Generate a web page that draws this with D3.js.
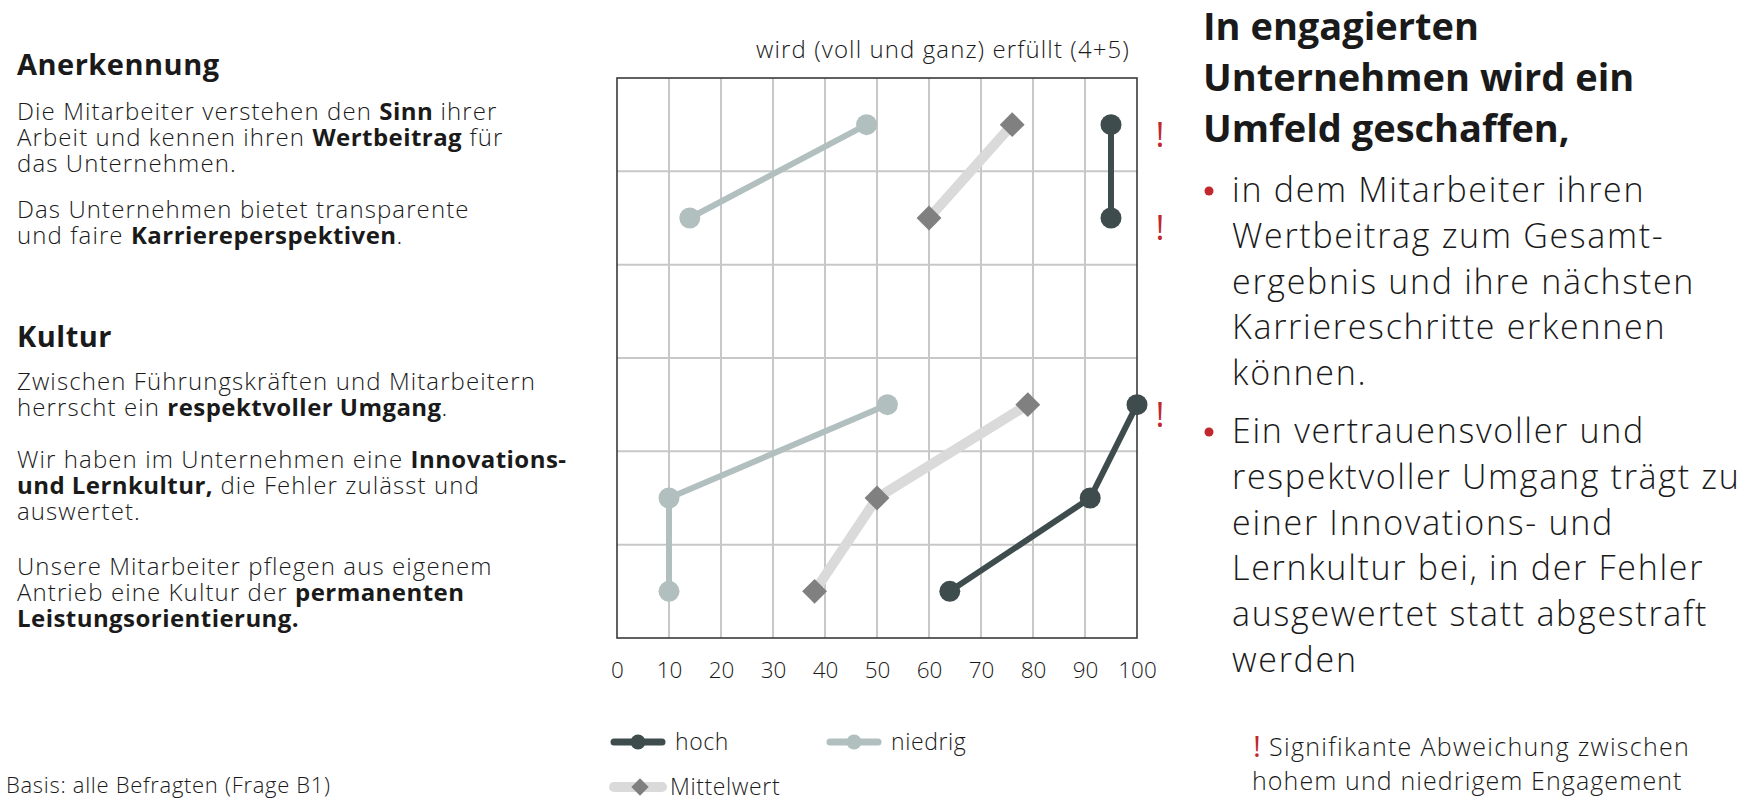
<!DOCTYPE html>
<html><head><meta charset="utf-8">
<script src="https://cdn.jsdelivr.net/npm/d3@7"></script>
<style>
html,body{margin:0;padding:0;background:#fff;}
svg{display:block;font-family:"Open Sans",sans-serif;}
</style></head>
<body><svg id="c" width="1756" height="802"></svg>
<script>
// ---------- data ----------
const rows = ["Sinn/Wertbeitrag","Karriereperspektiven","(leer)","Umgang","Innovations- und Lernkultur","Leistungsorientierung"];
const hoch       = [95, 95, null, 100, 91, 64];
const niedrig    = [48, 14, null, 52, 10, 10];
const mittelwert = [76, 60, null, 79, 50, 38];
const signifikant = [true, true, false, true, false, false];
const xTicks = [0,10,20,30,40,50,60,70,80,90,100];
const chartTitle = "wird (voll und ganz) erfüllt (4+5)";
const legendLabels = ["hoch","niedrig","Mittelwert"];

const leftHeadings = ["Anerkennung","Kultur"];
const leftParas1 = [
  [
    [["Die Mitarbeiter verstehen den ",0],["Sinn",1],[" ihrer",0]],
    [["Arbeit und kennen ihren ",0],["Wertbeitrag",1],[" für",0]],
    [["das Unternehmen.",0]]
  ],
  [
    [["Das Unternehmen bietet transparente",0]],
    [["und faire ",0],["Karriereperspektiven",1],[".",0]]
  ]
];
const leftParas2 = [
  [
    [["Zwischen Führungskräften und Mitarbeitern",0]],
    [["herrscht ein ",0],["respektvoller Umgang",1],[".",0]]
  ],
  [
    [["Wir haben im Unternehmen eine ",0],["Innovations-",1]],
    [["und Lernkultur,",1],[" die Fehler zulässt und",0]],
    [["auswertet.",0]]
  ],
  [
    [["Unsere Mitarbeiter pflegen aus eigenem",0]],
    [["Antrieb eine Kultur der ",0],["permanenten",1]],
    [["Leistungsorientierung.",1]]
  ]
];
const rightTitle = ["In engagierten","Unternehmen wird ein","Umfeld geschaffen,"];
const bullet1 = ["in dem Mitarbeiter ihren","Wertbeitrag zum Gesamt-","ergebnis und ihre nächsten","Karriereschritte erkennen","können."];
const bullet2 = ["Ein vertrauensvoller und","respektvoller Umgang trägt zu","einer Innovations- und","Lernkultur bei, in der Fehler","ausgewertet statt abgestraft","werden"];
const footnote = ["Signifikante Abweichung zwischen","hohem und niedrigem Engagement"];
const basis = "Basis: alle Befragten (Frage B1)";

// ---------- styles ----------
const C_HOCH="#3e4c4e", C_NIED="#b1bfbf", C_MITL="#dadada", C_DIA="#808080", C_RED="#c1272d", C_TXT="#1a1a1a";

const svg = d3.select("#c");
const x = d3.scaleLinear().domain([0,100]).range([617,1137]);
const y = d3.scaleBand().domain(rows).range([78,638]).padding(0);
const yc = r => y(r) + y.bandwidth()/2;

// grid
const g = svg.append("g");
g.selectAll("line.v").data(xTicks.filter(t=>t>0 && t<100)).join("line")
  .attr("x1",d=>x(d)).attr("x2",d=>x(d)).attr("y1",y.range()[0]).attr("y2",y.range()[1])
  .attr("stroke","#c8c8c8").attr("stroke-width",2);
g.selectAll("line.h").data(rows.slice(1)).join("line")
  .attr("x1",x(0)).attr("x2",x(100)).attr("y1",d=>y(d)).attr("y2",d=>y(d))
  .attr("stroke","#c8c8c8").attr("stroke-width",2);
g.append("rect").attr("x",x(0)).attr("y",y.range()[0]).attr("width",x(100)-x(0)).attr("height",y.range()[1]-y.range()[0])
  .attr("fill","none").attr("stroke","#3a3a3a").attr("stroke-width",1.6);

// axis
const ax = svg.append("g").attr("transform",`translate(0,${y.range()[1]})`)
  .call(d3.axisBottom(x).tickValues(xTicks).tickSize(0).tickPadding(24).tickFormat(d3.format("d")));
ax.select(".domain").remove();
ax.selectAll("text").attr("font-size",22.5).attr("fill",C_TXT).attr("font-family","'Open Sans',sans-serif").attr("font-weight",300);

// chart title
svg.append("text").attr("x",1130).attr("y",58).attr("text-anchor","end")
  .attr("font-size",24).attr("letter-spacing",1.1).attr("font-weight",300).attr("fill",C_TXT).text(chartTitle);

// series
const toPts = arr => arr.map((v,i)=>({v, row: rows[i]}));
const line = d3.line().defined(d=>d.v!=null).x(d=>x(d.v)).y(d=>yc(d.row));
svg.append("path").datum(toPts(mittelwert)).attr("d",line).attr("fill","none").attr("stroke",C_MITL).attr("stroke-width",10);
svg.append("path").datum(toPts(niedrig)).attr("d",line).attr("fill","none").attr("stroke",C_NIED).attr("stroke-width",6);
svg.append("path").datum(toPts(hoch)).attr("d",line).attr("fill","none").attr("stroke",C_HOCH).attr("stroke-width",6);

svg.append("g").selectAll("path").data(toPts(mittelwert).filter(d=>d.v!=null)).join("path")
  .attr("d",d3.symbol(d3.symbolSquare,310)()).attr("fill",C_DIA)
  .attr("transform",d=>`translate(${x(d.v)},${yc(d.row)}) rotate(45)`);
svg.append("g").selectAll("circle").data(toPts(niedrig).filter(d=>d.v!=null)).join("circle")
  .attr("cx",d=>x(d.v)).attr("cy",d=>yc(d.row)).attr("r",10.5).attr("fill",C_NIED);
svg.append("g").selectAll("circle").data(toPts(hoch).filter(d=>d.v!=null)).join("circle")
  .attr("cx",d=>x(d.v)).attr("cy",d=>yc(d.row)).attr("r",10.5).attr("fill",C_HOCH);

// significance marks
svg.append("g").selectAll("text").data(rows.filter((r,i)=>signifikant[i])).join("text")
  .attr("x",1160).attr("y",d=>yc(d)+22).attr("text-anchor","middle")
  .attr("font-size",34).attr("fill",C_RED).text("!");

// legend
const lg = svg.append("g");
function legendItem(x0, yy, color, lw, marker, label, tx){
  lg.append("line").attr("x1",x0).attr("x2",x0+48).attr("y1",yy).attr("y2",yy).attr("stroke",color).attr("stroke-width",lw).attr("stroke-linecap","round");
  if(marker==="circle") lg.append("circle").attr("cx",x0+24).attr("cy",yy).attr("r",7.5).attr("fill",color);
  else lg.append("path").attr("d",d3.symbol(d3.symbolSquare,150)()).attr("fill",C_DIA).attr("transform",`translate(${x0+26},${yy}) rotate(45)`);
  lg.append("text").attr("x",tx).attr("y",yy+8).attr("font-size",23).attr("letter-spacing",0.6).attr("font-weight",300).attr("fill",C_TXT).text(label);
}
legendItem(614,742,C_HOCH,7,"circle",legendLabels[0],675);
legendItem(830,742,C_NIED,7,"circle",legendLabels[1],891);
legendItem(614,787,C_MITL,10,"diamond",legendLabels[2],670);

// left text
const LH = 26, FS = 24;
function para(lines, x0, y0){
  const t = svg.append("g");
  lines.forEach((l,i)=>{
    const te = t.append("text").attr("x",x0).attr("y",y0+i*LH).attr("font-size",FS).attr("fill",C_TXT);
    l.forEach(s=>te.append("tspan").attr("font-weight",s[1]?700:300).attr("letter-spacing",s[1]?0.45:1.1).text(s[0]));
  });
}
function heading(t, yy){
  svg.append("text").attr("x",17).attr("y",yy).attr("font-size",29).attr("letter-spacing",0.5).attr("font-weight",700).attr("fill",C_TXT).text(t);
}
heading(leftHeadings[0],75);
[120,218].forEach((yy,i)=>para(leftParas1[i],17,yy));
heading(leftHeadings[1],347);
[390,468,575].forEach((yy,i)=>para(leftParas2[i],17,yy));

// right text
rightTitle.forEach((t,i)=>svg.append("text").attr("x",1203).attr("y",40+i*51).attr("font-size",38).attr("font-weight",700).attr("fill",C_TXT).text(t));
function bullet(lines, y0){
  svg.append("circle").attr("cx",1209).attr("cy",y0-11).attr("r",4.5).attr("fill",C_RED);
  lines.forEach((t,i)=>svg.append("text").attr("x",1232).attr("y",y0+i*45.8).attr("font-size",34).attr("letter-spacing",1.7).attr("font-weight",300).attr("fill",C_TXT).text(t));
}
bullet(bullet1,202);
bullet(bullet2,443);

// footnote
svg.append("text").attr("x",1257).attr("y",757).attr("text-anchor","middle").attr("font-size",30).attr("fill",C_RED).text("!");
svg.append("text").attr("x",1269).attr("y",756).attr("font-size",25).attr("letter-spacing",1.3).attr("font-weight",300).attr("fill",C_TXT).text(footnote[0]);
svg.append("text").attr("x",1252).attr("y",790).attr("font-size",25).attr("letter-spacing",1.1).attr("font-weight",300).attr("fill",C_TXT).text(footnote[1]);

// basis
svg.append("text").attr("x",6).attr("y",793).attr("font-size",22).attr("letter-spacing",0.7).attr("font-weight",300).attr("fill",C_TXT).text(basis);
</script></body></html>
